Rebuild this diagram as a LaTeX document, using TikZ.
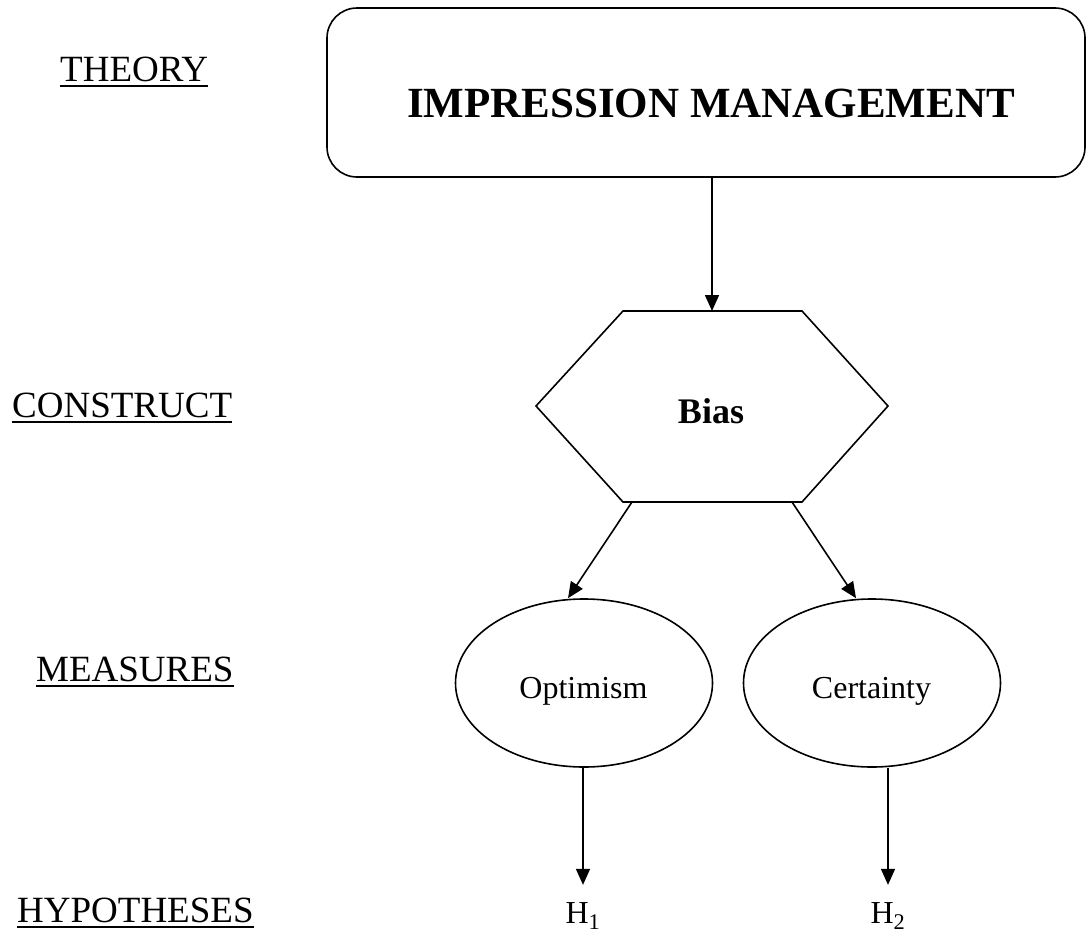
\documentclass[tikz,border=0pt]{standalone}
\usepackage{fontspec}
\setmainfont{Liberation Serif}
\usetikzlibrary{arrows.meta,shapes.geometric}
\tikzset{
  arr/.style={-{Triangle[length=16pt,width=14pt]}, line width=1.6pt},
  rowlabel/.style={anchor=base west, inner sep=0pt, font=\fontsize{37}{44}\selectfont},
  uline/.style={line width=2.2pt},
  bigbox/.style={draw, line width=1.6pt, rounded corners=30pt, minimum width=758pt, minimum height=169pt, inner sep=0pt},
  oval/.style={draw, line width=1.6pt, ellipse, minimum width=257pt, minimum height=168pt, inner sep=0pt},
  ovaltext/.style={anchor=base, inner sep=0pt, font=\fontsize{32}{38}\selectfont},
  hyp/.style={anchor=base, inner sep=0pt, font=\fontsize{32}{38}\selectfont},
}
\begin{document}
\begin{tikzpicture}[x=1pt,y=-1pt]
\useasboundingbox (0,0) rectangle (1089,937);
% row labels
\node[rowlabel] (lt) at (60,81) {THEORY};
\node[rowlabel] (lc) at (12,417) {CONSTRUCT};
\node[rowlabel] (lm) at (36,681) {MEASURES};
\node[rowlabel] (lh) at (17,922) {HYPOTHESES};
\foreach \n in {lt,lc,lm,lh}{
  \draw[uline] ([yshift=-5pt]\n.base west) -- ([yshift=-5pt]\n.base east);
}
% theory box
\node[bigbox] (im) at (706,92.5) {};
\node[anchor=base, inner sep=0pt, font=\fontsize{43}{50}\selectfont\bfseries] (imtext) at (711,117) {IMPRESSION MANAGEMENT};
% hexagon
\coordinate (h1) at (623,311);
\coordinate (h2) at (802,311);
\coordinate (h3) at (888,406);
\coordinate (h4) at (802,502);
\coordinate (h5) at (623,502);
\coordinate (h6) at (536,406);
\draw[line width=1.6pt, line join=miter] (h1) -- (h2) -- (h3) -- (h4) -- (h5) -- (h6) -- cycle;
\coordinate (hexTop) at (712,311);
\coordinate (hexBL) at (632,502);
\coordinate (hexBR) at (792,502);
\node[anchor=base, inner sep=0pt, font=\fontsize{36}{42}\selectfont\bfseries] (bias) at (711,423) {Bias};
% measures
\node[oval] (opt) at (584,683) {};
\node[oval] (cer) at (872,683) {};
\node[ovaltext] (optt) at (583.5,698) {Optimism};
\node[ovaltext] (cert) at (871.5,698) {Certainty};
% hypotheses
\node[hyp] (hy1) at (583,923) {H\textsubscript{1}};
\node[hyp] (hy2) at (888,923) {H\textsubscript{2}};
% connectors
\draw[arr] (im.south -| hexTop) -- (hexTop);
\draw[arr] (hexBL) -- ([xshift=-16pt]opt.north);
\draw[arr] (hexBR) -- ([xshift=-16pt]cer.north);
\draw[arr, shorten >=17pt] (opt.south -| hy1) -- (hy1.north);
\draw[arr, shorten >=17pt] (cer.south -| hy2) -- (hy2.north);
\end{tikzpicture}
\end{document}
